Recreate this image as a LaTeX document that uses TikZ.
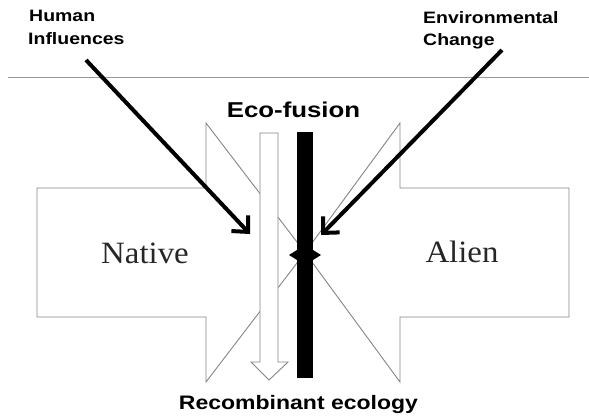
\documentclass[tikz,border=0pt]{standalone}
\usepackage{fontspec}
\setmainfont{Liberation Serif}
\newfontfamily\headsans{Liberation Sans}
\usetikzlibrary{arrows.meta}
\newcommand{\wide}[1]{\scalebox{1.18}[1]{#1}}
\begin{document}
\begin{tikzpicture}[x=1pt,y=-1pt,
  outline/.style={draw=black!48, line width=0.9pt, line join=miter},
  push/.style={line width=4pt, -{Straight Barb[length=12pt,width=23pt]}},
  caption/.style={font=\headsans\bfseries\fontsize{16.5}{19}\selectfont, inner sep=0pt, anchor=base west},
  title/.style={font=\headsans\bfseries\fontsize{21.5}{25}\selectfont, inner sep=0pt, anchor=base},
  side/.style={font=\fontsize{31}{36}\selectfont, text=black!85, inner sep=0pt, anchor=base}]
\useasboundingbox (0,0) rectangle (589,417);

% separating rule under the external drivers
\coordinate (ruleL) at (8,77);
\coordinate (ruleR) at (589,77);
\draw[draw=black!40, line width=0.9pt] (ruleL) -- (ruleR);

% block arrows meeting in the middle
\draw[outline] (37,188) -- (206,188) -- (206,123) -- (305,252.5) -- (206,382) -- (206,317) -- (37,317) -- cycle;
\draw[outline] (569,188) -- (400,188) -- (400,123) -- (305,252.5) -- (400,382) -- (400,317) -- (569,317) -- cycle;

% downward hollow arrow towards the outcome
\draw[outline, fill=white] (260,133) -- (278,133) -- (278,362) -- (288,362) -- (269,380) -- (251,362) -- (260,362) -- cycle;

% fusion bar and junction
\fill (297,132) rectangle (313,378);
\fill (289,255) -- (305,245) -- (321,255) -- (305,265) -- cycle;

% labels
\node[caption] (human) at (29,22) {\wide{Human}};
\node[caption] (influ) at (28,45) {\wide{Influences}};
\node[caption] (envir) at (423,24) {\wide{Environmental}};
\node[caption] (change) at (423,46) {\wide{Change}};
\node[title] (fusion) at (293.5,118) {\scalebox{1.2}[1]{Eco-fusion}};
\node[title, font=\headsans\bfseries\fontsize{19.5}{23}\selectfont] (recomb) at (298.5,409) {\wide{Recombinant ecology}};
\node[side] (native) at (145,263) {\scalebox{1.06}[1]{Native}};
\node[side] (alien) at (462,262) {\scalebox{1.06}[1]{Alien}};

% driver arrows
\coordinate (humanStart) at (86,60);
\coordinate (humanEnd) at (250,234);
\coordinate (envStart) at (502,50);
\coordinate (envEnd) at (321,235);
\draw[push] (humanStart) -- (humanEnd);
\draw[push] (envStart) -- (envEnd);
\end{tikzpicture}
\end{document}
